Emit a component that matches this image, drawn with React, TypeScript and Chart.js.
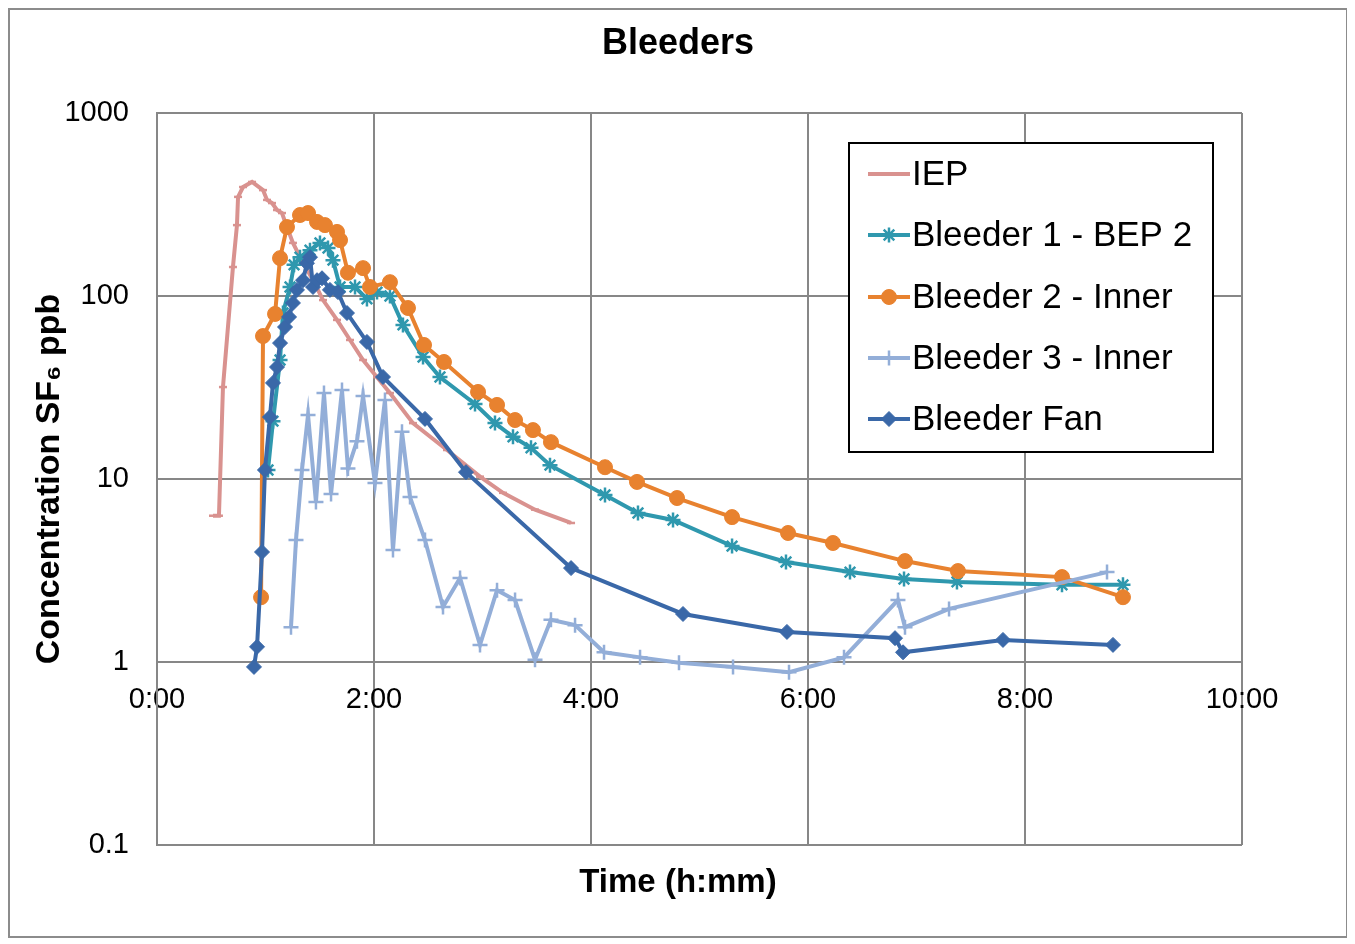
import React, { useEffect, useRef } from 'react';
import { Chart, registerables } from 'chart.js';
import { drawPoint } from 'chart.js/helpers';

Chart.register(...registerables);

// ---------- text ----------
const chartTitle = 'Bleeders';
const xTitle = 'Time (h:mm)';
const yTitle = 'Concentration SF\u2086 ppb';
const seriesNames = ['IEP', 'Bleeder 1 - BEP 2', 'Bleeder 2 - Inner', 'Bleeder 3 - Inner', 'Bleeder Fan'];

// ---------- axes ----------
const xTickHours = [0, 2, 4, 6, 8, 10];
const yTickValues = [0.1, 1, 10, 100, 1000];

// ---------- data (time in hours, concentration in ppb) ----------
const iepTime = [0.516, 0.571, 0.608, 0.700, 0.737, 0.747, 0.793, 0.876, 0.977, 1.014, 1.060, 1.106, 1.152, 1.198, 1.253, 1.318, 1.438, 1.530, 1.659, 1.779, 1.899, 2.028, 2.147, 2.359, 2.673, 2.977, 3.189, 3.484, 3.816];
const iepConc = [6.3, 6.3, 31.8, 144, 244, 348, 394, 420, 379, 335, 322, 295, 284, 238, 195, 163, 122, 95, 74, 57.5, 44.7, 36, 29.5, 20.2, 14.4, 10.3, 8.4, 6.8, 5.75];

const b1Time = [1.023, 1.069, 1.134, 1.161, 1.226, 1.263, 1.318, 1.410, 1.502, 1.576, 1.622, 1.687, 1.825, 1.935, 2.028, 2.147, 2.267, 2.452, 2.608, 2.931, 3.115, 3.281, 3.447, 3.622, 4.129, 4.433, 4.756, 5.300, 5.797, 6.387, 6.885, 7.373, 8.341, 8.903];
const b1Conc = [11.2, 20.7, 44.7, 80.8, 112, 148, 163, 178, 195, 183, 157, 112, 112, 96.4, 105, 100, 69.5, 46.4, 36.1, 25.7, 20.2, 17.0, 14.8, 11.9, 8.18, 6.52, 5.97, 4.30, 3.52, 3.10, 2.84, 2.74, 2.64, 2.64];

const b2Time = [0.959, 0.977, 1.088, 1.134, 1.198, 1.318, 1.392, 1.475, 1.548, 1.659, 1.687, 1.760, 1.899, 1.963, 2.147, 2.313, 2.461, 2.645, 2.959, 3.134, 3.300, 3.465, 3.631, 4.129, 4.424, 4.793, 5.300, 5.816, 6.230, 6.894, 7.382, 8.341, 8.903];
const b2Conc = [2.26, 60.4, 79.8, 161, 238, 277, 284, 254, 244, 224, 202, 134, 142, 112, 119, 86, 54, 43.6, 29.9, 25.4, 21.0, 18.5, 15.9, 11.6, 9.64, 7.87, 6.19, 5.07, 4.47, 3.56, 3.14, 2.91, 2.26];

const b3Time = [1.235, 1.281, 1.336, 1.392, 1.465, 1.539, 1.604, 1.705, 1.760, 1.843, 1.899, 2.009, 2.101, 2.175, 2.258, 2.332, 2.470, 2.636, 2.793, 2.977, 3.134, 3.300, 3.484, 3.631, 3.853, 4.120, 4.452, 4.811, 5.309, 5.825, 6.332, 6.829, 6.894, 7.300, 8.756];
const b3Conc = [1.55, 4.64, 11.2, 22.4, 7.48, 29.5, 8.28, 30.6, 11.4, 16.1, 28.4, 9.51, 27.0, 4.09, 18.1, 7.97, 4.64, 2.0, 2.88, 1.24, 2.47, 2.18, 1.03, 1.70, 1.59, 1.13, 1.06, 0.99, 0.94, 0.88, 1.06, 2.18, 1.55, 1.95, 3.10];

const fanTime = [0.894, 0.922, 0.968, 0.995, 1.041, 1.069, 1.106, 1.134, 1.180, 1.217, 1.253, 1.290, 1.346, 1.382, 1.410, 1.438, 1.475, 1.521, 1.594, 1.668, 1.751, 1.935, 2.083, 2.470, 2.848, 3.816, 4.848, 5.806, 6.802, 6.876, 7.797, 8.811];
const fanConc = [0.94, 1.21, 3.99, 11.2, 21.8, 33.5, 40.9, 55.3, 67.7, 76.8, 91.6, 108, 122, 151, 163, 112, 122, 125, 108, 105, 80.7, 56.1, 36.1, 21.3, 10.9, 3.26, 1.83, 1.46, 1.35, 1.13, 1.32, 1.24];

// ---------- styles ----------
const FONT = "'Liberation Sans', Arial, Helvetica, sans-serif";
const GRID = '#878787';
const styles = [
  { color: '#D9928F', width: 4, pointStyle: 'line', radius: 4, pointBorder: 2.5, filled: false, legendMarker: false },
  { color: '#2F98AE', width: 4, pointStyle: 'star', radius: 7.5, pointBorder: 2.5, filled: false, legendMarker: true },
  { color: '#E8822F', width: 4, pointStyle: 'circle', radius: 7.5, pointBorder: 1, filled: true, legendMarker: true },
  { color: '#93AED8', width: 4, pointStyle: 'cross', radius: 7.5, pointBorder: 2.5, filled: false, legendMarker: true },
  { color: '#3A68A8', width: 4, pointStyle: 'rectRot', radius: 7.5, pointBorder: 1, filled: true, legendMarker: true },
];
const seriesTimes = [iepTime, b1Time, b2Time, b3Time, fanTime];
const seriesConcs = [iepConc, b1Conc, b2Conc, b3Conc, fanConc];

const boxLegend = {
  id: 'boxLegend',
  afterDraw(chart: any) {
    const ctx = chart.ctx as CanvasRenderingContext2D;
    const ca = chart.chartArea;
    const bx = ca.left + 692;
    const by = ca.top + 30;
    const bw = 364;
    const bh = 309;
    ctx.save();
    ctx.fillStyle = '#ffffff';
    ctx.fillRect(bx, by, bw, bh);
    ctx.lineWidth = 2;
    ctx.strokeStyle = '#000000';
    ctx.strokeRect(bx, by, bw, bh);
    const rows = [31, 92, 154, 215, 276];
    seriesNames.forEach((name, i) => {
      const s = styles[i];
      const y = by + rows[i];
      ctx.beginPath();
      ctx.strokeStyle = s.color;
      ctx.lineWidth = s.width;
      ctx.moveTo(bx + 19, y);
      ctx.lineTo(bx + 61, y);
      ctx.stroke();
      if (s.legendMarker) {
        ctx.fillStyle = s.color;
        ctx.strokeStyle = s.color;
        ctx.lineWidth = s.pointBorder;
        drawPoint(ctx, { pointStyle: s.pointStyle, rotation: 0, radius: s.radius, borderWidth: s.pointBorder } as any, bx + 40, y);
      }
      ctx.fillStyle = '#000000';
      ctx.font = `35px ${FONT}`;
      ctx.textAlign = 'left';
      ctx.textBaseline = 'middle';
      ctx.fillText(name, bx + 63, y + 1);
    });
    ctx.restore();
  },
};

export default function App() {
  const canvasRef = useRef<HTMLCanvasElement | null>(null);

  useEffect(() => {
    if (!canvasRef.current) return;
    const datasets = seriesNames.map((name, i) => {
      const s = styles[i];
      return {
        label: name,
        data: seriesTimes[i].map((t, k) => ({ x: t, y: seriesConcs[i][k] })),
        borderColor: s.color,
        backgroundColor: s.color,
        borderWidth: s.width,
        pointStyle: s.pointStyle,
        pointRadius: s.radius,
        pointBorderWidth: s.pointBorder,
        pointBorderColor: s.color,
        pointBackgroundColor: s.filled ? s.color : 'rgba(0,0,0,0)',
        tension: 0,
        fill: false,
        order: 4 - i,
      };
    });

    const chart = new Chart(canvasRef.current, {
      type: 'line',
      data: { datasets: datasets as any },
      plugins: [boxLegend],
      options: {
        animation: false,
        responsive: true,
        maintainAspectRatio: false,
        events: [],
        layout: { padding: { left: 0, right: 0, top: 0, bottom: 0 } },
        plugins: {
          legend: { display: false },
          tooltip: { enabled: false },
          title: {
            display: true,
            text: chartTitle,
            color: '#000',
            font: { family: FONT, size: 36, weight: 'bold' },
            padding: { top: 12.4, bottom: 47.4 },
          },
          subtitle: {
            display: true,
            position: 'bottom',
            text: xTitle,
            color: '#000',
            font: { family: FONT, size: 33, weight: 'bold' },
            padding: { top: 18.2, bottom: 33.2 },
          },
        },
        scales: {
          x: {
            type: 'linear',
            position: { y: 1 } as any,
            min: 0,
            max: 10,
            afterBuildTicks: (scale: any) => {
              scale.ticks = xTickHours.map((v) => ({ value: v }));
            },
            ticks: {
              color: '#000',
              font: { family: FONT, size: 29 },
              padding: 21,
              maxRotation: 0,
              autoSkip: false,
              callback: (v: any) => `${v}:00`,
            },
            grid: { color: GRID, lineWidth: 2, drawTicks: false },
            border: { display: true, color: GRID, width: 2 },
          },
          y: {
            type: 'logarithmic',
            min: 0.1,
            max: 1000,
            afterBuildTicks: (scale: any) => {
              scale.ticks = yTickValues.map((v) => ({ value: v }));
            },
            afterFit: (scale: any) => {
              scale.width = 147;
            },
            ticks: {
              color: '#000',
              font: { family: FONT, size: 29 },
              padding: 28,
              autoSkip: false,
              callback: (v: any) => String(v),
            },
            grid: { color: GRID, lineWidth: 2, drawTicks: false },
            border: { display: true, color: GRID, width: 2 },
            title: {
              display: true,
              text: yTitle,
              color: '#000',
              font: { family: FONT, size: 34, weight: 'bold' },
              padding: { top: 19.6, bottom: 0 },
            },
          },
          yRightSpace: {
            type: 'linear',
            axis: 'y',
            position: 'right',
            display: true,
            ticks: { display: false },
            grid: { display: false, drawTicks: false },
            border: { display: false },
            afterFit: (scale: any) => {
              scale.width = 104;
            },
          },
        },
      } as any,
    });
    return () => chart.destroy();
  }, []);

  return (
    <div
      style={{
        width: 1340,
        height: 930,
        boxSizing: 'border-box',
        border: '2px solid #8c8c8c',
        background: '#fff',
        position: 'relative',
      }}
    >
      <canvas ref={canvasRef} />
    </div>
  );
}
